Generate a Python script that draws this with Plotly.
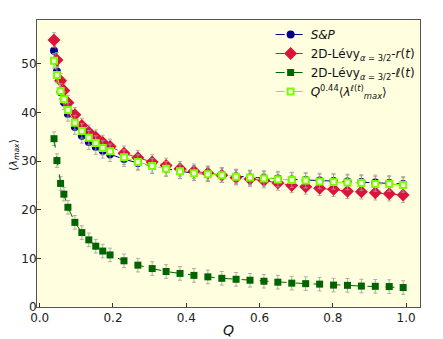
import plotly.graph_objects as go

# Q values
q = [0.039, 0.047, 0.057, 0.066, 0.077, 0.096, 0.115, 0.134, 0.153, 0.172, 0.192,
     0.230, 0.268, 0.307, 0.345, 0.383, 0.421, 0.459, 0.497, 0.536, 0.574, 0.612,
     0.650, 0.688, 0.726, 0.764, 0.802, 0.840, 0.878, 0.916, 0.954, 0.992]

sp = [52.7, 48.4, 44.2, 42.1, 39.7, 37.0, 35.2, 33.9, 32.9, 32.1, 31.4, 30.4, 29.6,
      29.0, 28.4, 27.9, 27.5, 27.3, 27.1, 26.8, 26.6, 26.5, 26.4, 26.2, 26.1, 26.0,
      25.9, 25.8, 25.7, 25.6, 25.5, 25.3]
levy_r = [54.9, 50.8, 46.5, 44.5, 42.0, 39.5, 37.3, 35.9, 34.9, 33.8, 33.0, 31.6, 30.7,
          29.8, 29.1, 28.4, 27.9, 27.5, 27.1, 26.6, 26.3, 26.0, 25.5, 25.0, 24.7, 24.4,
          24.2, 23.8, 23.7, 23.5, 23.3, 23.0]
levy_l = [34.6, 30.1, 25.4, 23.2, 20.5, 17.4, 15.3, 13.8, 12.5, 11.5, 10.7, 9.5, 8.6,
          7.9, 7.3, 6.9, 6.5, 6.2, 5.9, 5.7, 5.5, 5.3, 5.1, 4.9, 4.8, 4.7, 4.5, 4.45,
          4.3, 4.25, 4.2, 4.0]
scaled_l = [50.6, 47.7, 44.4, 42.7, 40.5, 37.9, 36.2, 34.8, 33.7, 32.7, 32.0, 30.8, 29.8,
            29.0, 28.4, 27.9, 27.5, 27.3, 27.1, 26.8, 26.6, 26.4, 26.2, 26.1, 26.0, 25.8,
            25.7, 25.6, 25.5, 25.3, 25.3, 25.1]

err_sp = [1.5] * len(q)
err_r = [1.5] * len(q)
err_l = [1.4] * len(q)
err_scaled = [1.5] * len(q)

labels = ["<i>S&amp;P</i>",
          "2D-Lévy<sub><i>α</i> = 3/2</sub>-<i>r</i>(<i>t</i>)",
          "2D-Lévy<sub><i>α</i> = 3/2</sub>-<i>ℓ</i>(<i>t</i>)",
          "<i>Q</i><sup>0.44</sup>⟨<i>λ</i><sup><i>ℓ</i>(<i>t</i>)</sup><sub><i>max</i></sub>⟩"]

fig = go.Figure()

def add(y, err, name, color, symbol, size, fill=None, lw=0):
    fig.add_trace(go.Scatter(
        x=q, y=y, name=name, mode="lines+markers",
        line=dict(color=color, width=1, dash="dash"),
        marker=dict(symbol=symbol, size=size, color=fill or color,
                    line=dict(color=color, width=lw)),
        error_y=dict(type="data", array=err, color="rgba(160,160,160,0.85)",
                     thickness=1, width=2),
    ))

add(sp, err_sp, labels[0], "#00008b", "circle", 8)
add(levy_r, err_r, labels[1], "#dc143c", "diamond", 10)
add(levy_l, err_l, labels[2], "#006400", "square", 7)
add(scaled_l, err_scaled, labels[3], "#7cfc00", "square", 6, fill="#f4ffe0", lw=2)

axis_common = dict(
    showline=True, mirror=True, linecolor="#555555", linewidth=1,
    ticks="inside", ticklen=4, tickcolor="#333333",
    showgrid=False, zeroline=False, automargin=False,
    tickfont=dict(family="DejaVu Sans", size=12, color="#222222"),
)

# the page body adds an 8px margin, so the figure is 8px smaller each way
fig.update_layout(
    width=435, height=331,
    margin=dict(l=29, r=23, t=12, b=32),
    paper_bgcolor="white",
    plot_bgcolor="#ffffe0",
    font=dict(family="DejaVu Sans", size=12, color="#111111"),
    xaxis=dict(range=[-0.0074, 1.038], tickvals=[0, 0.2, 0.4, 0.6, 0.8, 1.0],
               ticktext=["0.0", "0.2", "0.4", "0.6", "0.8", "1.0"],
               title=dict(text="<i>Q</i>", font=dict(size=14), standoff=0),
               **axis_common),
    yaxis=dict(range=[0, 59], tickvals=[0, 10, 20, 30, 40, 50],
               ticklabelstandoff=-3, **axis_common),
    legend=dict(x=0.61, y=1.0, xanchor="left", yanchor="top",
                bgcolor="rgba(0,0,0,0)", font=dict(size=12), tracegroupgap=0),
    showlegend=True,
)

# y axis title placed as an annotation so it sits clear of the tick labels
fig.add_annotation(text="⟨<i>λ</i><sub><i>max</i></sub>⟩", xref="paper", yref="paper",
                   x=-0.06, y=0.53, xanchor="center", yanchor="middle",
                   textangle=-90, showarrow=False, font=dict(size=11))

fig.write_html("out.html")
